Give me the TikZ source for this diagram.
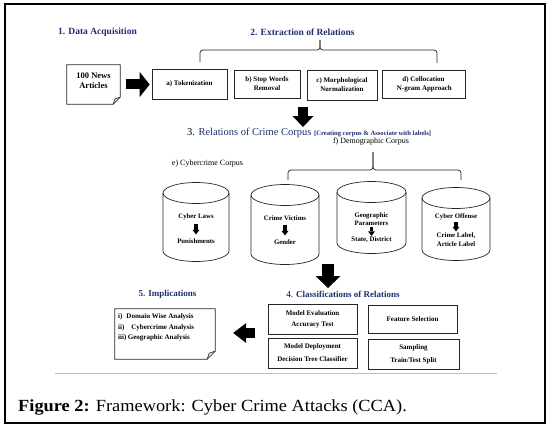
\documentclass[tikz,border=0pt]{standalone}
\usepackage{fontspec}
\setmainfont{Liberation Serif}
\newfontfamily\capfont[FakeStretch=1.08]{Liberation Serif}
\usetikzlibrary{arrows.meta,calc}
\definecolor{navy}{HTML}{1F2D6E}
\newcommand\drawcyl[5]{%
  \draw[cylline] (#1-#4,#2) -- (#1-#4,#3) arc[start angle=180,end angle=360,x radius=#4pt,y radius=#5pt] -- (#1+#4,#2);
  \draw[cylline] (#1,#2) ellipse[x radius=#4pt,y radius=#5pt];}
\newcommand\drawnote[2]{% node name, fold size
  \draw[boxline] (#1.north west) -- (#1.north east) -- ([yshift=#2pt]#1.south east) -- ([xshift=-#2pt]#1.south east) -- (#1.south west) -- cycle;
  \draw[boxline] ([xshift=-#2pt]#1.south east) -- ([xshift=-0.75*#2pt,yshift=0.75*#2pt]#1.south east) -- ([yshift=#2pt]#1.south east);}
\begin{document}
\begin{tikzpicture}[x=1pt,y=-1pt,
  boxline/.style={draw=black!85,line width=0.7pt},
  cylline/.style={draw=black!85,line width=0.7pt},
  box/.style={boxline,align=center,inner sep=0pt,font=\bfseries\fontsize{7}{9}\selectfont},
  head/.style={text=navy,inner sep=0pt,font=\bfseries\fontsize{9.5}{11}\selectfont},
  sub/.style={inner sep=0pt,font=\fontsize{8}{10}\selectfont},
  cyltext/.style={inner sep=0pt,align=center,font=\bfseries\fontsize{6.8}{8}\selectfont},
  smallarrow/.style={line width=3.2pt, -{Triangle[width=7pt,length=4.5pt,line width=0pt]}},
  bracket/.style={draw=black!85,line width=0.7pt,rounded corners=3pt}
]
\useasboundingbox (0,0) rectangle (553,433);
\draw[line width=1.2pt] (5,4) rectangle (545,423);

% headings
\node[head] (h1) at (97.5,32) {1. Data Acquisition};
\node[head] (h2) at (302.5,32) {2. Extraction of Relations};

% section 1/2
\node[minimum width=53pt,minimum height=39pt,inner sep=0pt] (news) at (93.5,84.5) {};
\drawnote{news}{7}
\node[inner sep=0pt,align=center,font=\bfseries\fontsize{8.5}{9.5}\selectfont] (newstext) at (93.5,80.5) {100 News\\Articles};

\node[box,minimum width=75pt,minimum height=30pt] (tok) at (189.5,84) {a) Tokenization};
\node[box,minimum width=66pt,minimum height=28pt] (stop) at (267,84) {b) Stop Words\\Removal};
\node[box,minimum width=70pt,minimum height=30pt] (morph) at (342,85) {c) Morphological\\Normalization};
\node[box,minimum width=83pt,minimum height=28pt] (coll) at (423.5,84) {d) Collocation\\\ N-gram Approach};

\draw[line width=10pt,-{Triangle[width=25pt,length=10pt,line width=0pt]},shorten <=6pt,shorten >=2pt] (news.east) -- (news.east -| tok.west);

% bracket 1
\coordinate (b1l) at (200,62);
\coordinate (b1r) at (437,63);
\coordinate (b1c) at (320,40);
\draw[bracket] (b1l) -- (200,50) -- (320,50) -- (b1c);
\draw[bracket] (b1c) -- (320,50) -- (437,50) -- (b1r);

% arrow down 1
\coordinate (a2s) at (303,107);
\coordinate (a2e) at (303,127);
\draw[line width=10pt,-{Triangle[width=21pt,length=11pt,line width=0pt]}] (a2s) -- (a2e);

% section 3
\node[anchor=base west,inner sep=0pt,text=navy,font=\fontsize{10.5}{12}\selectfont] (h3) at (187,135.5)
  {{\color{black}3.} Relations of Crime Corpus {\bfseries\fontsize{6.6}{7}\selectfont [Creating corpus \& Associate with labels]}};
\node[sub] (ecorp) at (207.5,164) {e) Cybercrime Corpus};
\node[sub] (fcorp) at (371,142) {f) Demographic Corpus};

% bracket 2
\coordinate (b2l) at (288,180);
\coordinate (b2r) at (461,180);
\coordinate (b2c) at (373,152);
\draw[bracket] (b2l) -- (288,170) -- (373,170) -- (b2c);
\draw[bracket] (b2c) -- (373,170) -- (461,170) -- (b2r);

% cylinders
\drawcyl{196}{193}{251}{33}{10.5}
\drawcyl{285}{195}{254}{34}{10.5}
\drawcyl{371.5}{192}{243}{34.5}{10.5}
\drawcyl{456}{198}{250}{34}{10.5}

\node[cyltext] (laws) at (196,217) {Cyber Laws};
\node[cyltext] (pun) at (196,241) {Punishments};
\draw[smallarrow,shorten <=4pt,shorten >=4pt] (laws.south) -- (pun.north);

\node[cyltext] (vict) at (285,218) {Crime Victims};
\node[cyltext] (gend) at (285,242) {Gender};
\draw[smallarrow,shorten <=4pt,shorten >=4pt] (vict.south) -- (gend.north);

\node[cyltext] (geo) at (371.5,219) {Geographic\\Parameters};
\node[cyltext] (state) at (371.5,240) {State, District};
\draw[smallarrow,shorten <=1.5pt,shorten >=1pt] (geo.south) -- (state.north);

\node[cyltext] (offn) at (456,217) {Cyber Offense};
\node[cyltext,font=\bfseries\fontsize{6.8}{9}\selectfont] (lab) at (456,239.5) {Crime Label,\\Article Label};
\draw[smallarrow,shorten <=1.5pt,shorten >=1pt] (offn.south) -- (lab.north);

% arrow down 2
\coordinate (a3s) at (328,264);
\coordinate (a3e) at (328,288);
\draw[line width=12pt,-{Triangle[width=25pt,length=12pt,line width=0pt]}] (a3s) -- (a3e);

% section 4
\node[inner sep=0pt,text=navy,font=\bfseries\fontsize{9}{11}\selectfont] (h4) at (343,294) {{\color{black}\mdseries 4.} Classifications of Relations};
\node[box,minimum width=89pt,minimum height=30pt,font=\bfseries\fontsize{7}{11}\selectfont] (eval) at (312.5,319) {Model Evaluation\\Accuracy Test};
\node[box,minimum width=89pt,minimum height=28pt] (feat) at (412.5,319) {Feature Selection};
\node[box,minimum width=89pt,minimum height=30pt,font=\bfseries\fontsize{7}{13}\selectfont] (depl) at (312.5,353) {Model Deployment\\Decision Tree Classifier};
\node[box,minimum width=91pt,minimum height=30pt,font=\bfseries\fontsize{7}{13}\selectfont] (samp) at (413.5,354) {Sampling\\Train/Test Split};

% section 5
\node[head,font=\bfseries\fontsize{9}{11}\selectfont] (h5) at (167.5,294) {5. Implications};
\node[minimum width=100pt,minimum height=50pt,inner sep=0pt] (impl) at (165,334) {};
\drawnote{impl}{8}
\node[anchor=west,inner sep=0pt,align=left,font=\bfseries\fontsize{7}{10.3}\selectfont] (impltext) at (118,327.5)
  {i)\hspace{4pt}Domain Wise Analysis\\ii)\hspace{7pt}Cybercrime Analysis\\iii)\hspace{1.5pt}Geographic Analysis};

\coordinate (a4s) at (255,333);
\draw[line width=10pt,-{Triangle[width=20pt,length=13pt,line width=0pt]},shorten >=18pt] (a4s) -- (a4s -| impl.east);

% caption
\draw[draw=black!25,line width=0.8pt] (55,373) coordinate (cl) -- (497,373) coordinate (cr);
\node[anchor=base west,inner sep=0pt,font=\capfont\fontsize{17}{20}\selectfont] (cap) at (18,411)
  {\textbf{Figure 2:} Framework: Cyber Crime Attacks (CCA).};
\end{tikzpicture}
\end{document}
